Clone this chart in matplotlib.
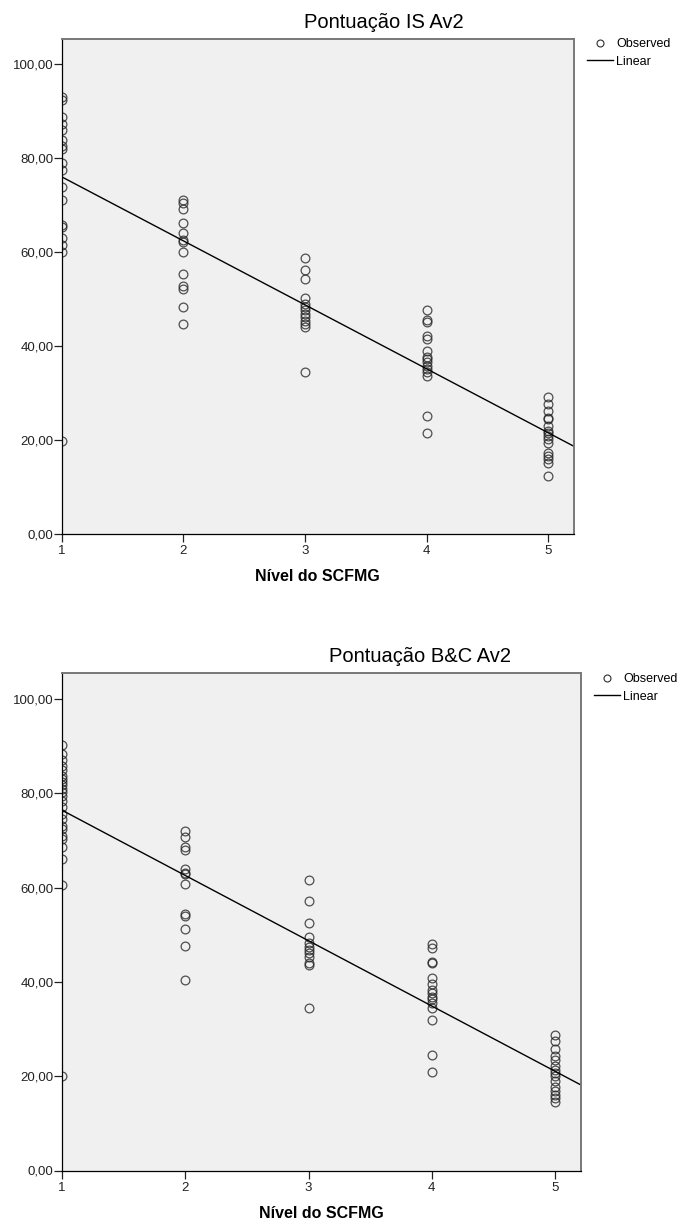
import numpy as np
import matplotlib
matplotlib.use("Agg")
import matplotlib.pyplot as plt
from matplotlib.lines import Line2D

plt.rcParams['font.family'] = ['Liberation Sans', 'DejaVu Sans']

# Nivel do SCFMG -> observed scores
levels = [1, 2, 3, 4, 5]

is_level1 = [93.0, 92.5, 88.9, 87.4, 86.0, 83.9, 82.7, 81.9, 79.1, 77.6, 73.9,
             71.2, 65.8, 65.3, 63.1, 61.5, 60.1, 19.8]
is_level2 = [71.2, 70.5, 69.1, 66.2, 64.1, 62.6, 62.1, 60.0, 55.3, 52.8, 52.2,
             48.3, 44.6]
is_level3 = [58.7, 56.2, 54.2, 50.3, 49.0, 48.3, 47.6, 46.9, 46.2, 45.4, 44.7,
             44.0, 34.4]
is_level4 = [47.6, 45.5, 45.1, 42.2, 41.5, 39.0, 37.6, 37.2, 36.5, 35.8, 35.1,
             34.4, 33.6, 25.1, 21.5]
is_level5 = [29.2, 27.6, 26.1, 24.7, 24.4, 22.9, 21.8, 21.4, 20.8, 20.2, 19.4,
             17.2, 16.5, 15.9, 15.1, 12.2]

bc_level1 = [90.2, 88.4, 87.0, 85.9, 84.9, 83.8, 83.1, 82.4, 81.7, 81.0, 80.3,
             79.5, 78.5, 77.1, 75.6, 74.6, 73.1, 72.4, 71.0, 70.3, 68.6, 66.2,
             60.5, 20.0]
bc_level2 = [72.1, 70.7, 68.6, 68.0, 63.9, 63.2, 62.9, 60.7, 54.4, 54.0, 51.2,
             47.6, 40.5]
bc_level3 = [61.7, 57.1, 52.6, 49.6, 48.2, 47.5, 46.8, 46.1, 45.4, 44.1, 43.5,
             34.4]
bc_level4 = [48.0, 47.3, 44.2, 44.1, 40.9, 39.5, 38.3, 37.6, 36.8, 36.3, 35.6,
             34.5, 31.9, 24.6, 21.0]
bc_level5 = [28.8, 27.4, 25.8, 24.2, 23.5, 22.1, 21.4, 20.7, 20.0, 18.9, 17.8,
             16.8, 16.1, 15.4, 14.6]

# linear fit shown in the chart (intercept, slope)
is_fit = (89.7, -13.65)
bc_fit = (90.3, -13.85)

y_ticks = [0, 20, 40, 60, 80, 100]
y_tick_labels = ['0,00', '20,00', '40,00', '60,00', '80,00', '100,00']
x_tick_labels = ['1', '2', '3', '4', '5']

titles = ['Pontuação IS Av2', 'Pontuação B&C Av2']
x_label = 'Nível do SCFMG'

W, H = 681, 1225
fig = plt.figure(figsize=(W / 100, H / 100), dpi=100)


def px_box(left, right, top, bottom):
    return [left / W, 1 - bottom / H, (right - left) / W, (bottom - top) / H]


def draw_panel(box, groups, fit, title, title_xy, legend_xy, xmax):
    ax = fig.add_axes(box)
    ax.set_facecolor('#f0f0f0')
    for lvl, vals in zip(levels, groups):
        ax.plot([lvl] * len(vals), vals, linestyle='none', marker='o',
                markersize=6.3, markerfacecolor='none', markeredgecolor='#262626',
                markeredgewidth=0.9, alpha=0.8)
    xs = np.array([levels[0], xmax])
    ax.plot(xs, fit[0] + fit[1] * xs, color='black', linewidth=1.0)

    ax.set_xlim(levels[0], xmax)
    ax.set_ylim(0, 105.5)
    ax.set_xticks(levels)
    ax.set_xticklabels(x_tick_labels)
    ax.set_yticks(y_ticks)
    ax.set_yticklabels(y_tick_labels)
    ax.tick_params(axis='both', direction='out', length=5.5, width=0.9,
                   labelsize=9.5, colors='#222222')
    ax.tick_params(axis='y', pad=0.5)
    ax.tick_params(axis='x', pad=2.5)
    for side in ['left', 'bottom']:
        ax.spines[side].set_color('black')
        ax.spines[side].set_linewidth(0.9)
    for side in ['top', 'right']:
        ax.spines[side].set_color('#787878')
        ax.spines[side].set_linewidth(1.4)
    ax.set_xlabel(x_label, fontsize=11.5, fontweight='bold', labelpad=9)

    fig.text(title_xy[0] / W, 1 - title_xy[1] / H, title, fontsize=14.5,
             ha='center', va='center')

    handles = [Line2D([], [], linestyle='none', marker='o', markersize=5,
                      markerfacecolor='none', markeredgecolor='#2e2e2e',
                      markeredgewidth=0.8),
               Line2D([], [], color='black', linewidth=1.0)]
    fig.legend(handles, ['Observed', 'Linear'], loc='upper left',
               bbox_to_anchor=(legend_xy[0] / W, 1 - legend_xy[1] / H),
               frameon=False, fontsize=9, handlelength=2.1, handletextpad=0.25,
               labelspacing=0.45, borderpad=0, borderaxespad=0)
    return ax


draw_panel(px_box(61.7, 573.5, 38.7, 533.5),
           [is_level1, is_level2, is_level3, is_level4, is_level5],
           is_fit, titles[0], (384, 23), (587, 38), 5.206)
draw_panel(px_box(62, 581, 673.3, 1170.5),
           [bc_level1, bc_level2, bc_level3, bc_level4, bc_level5],
           bc_fit, titles[1], (420, 657), (594, 673), 5.21)

fig.savefig('out.png', dpi=100, facecolor='white')
